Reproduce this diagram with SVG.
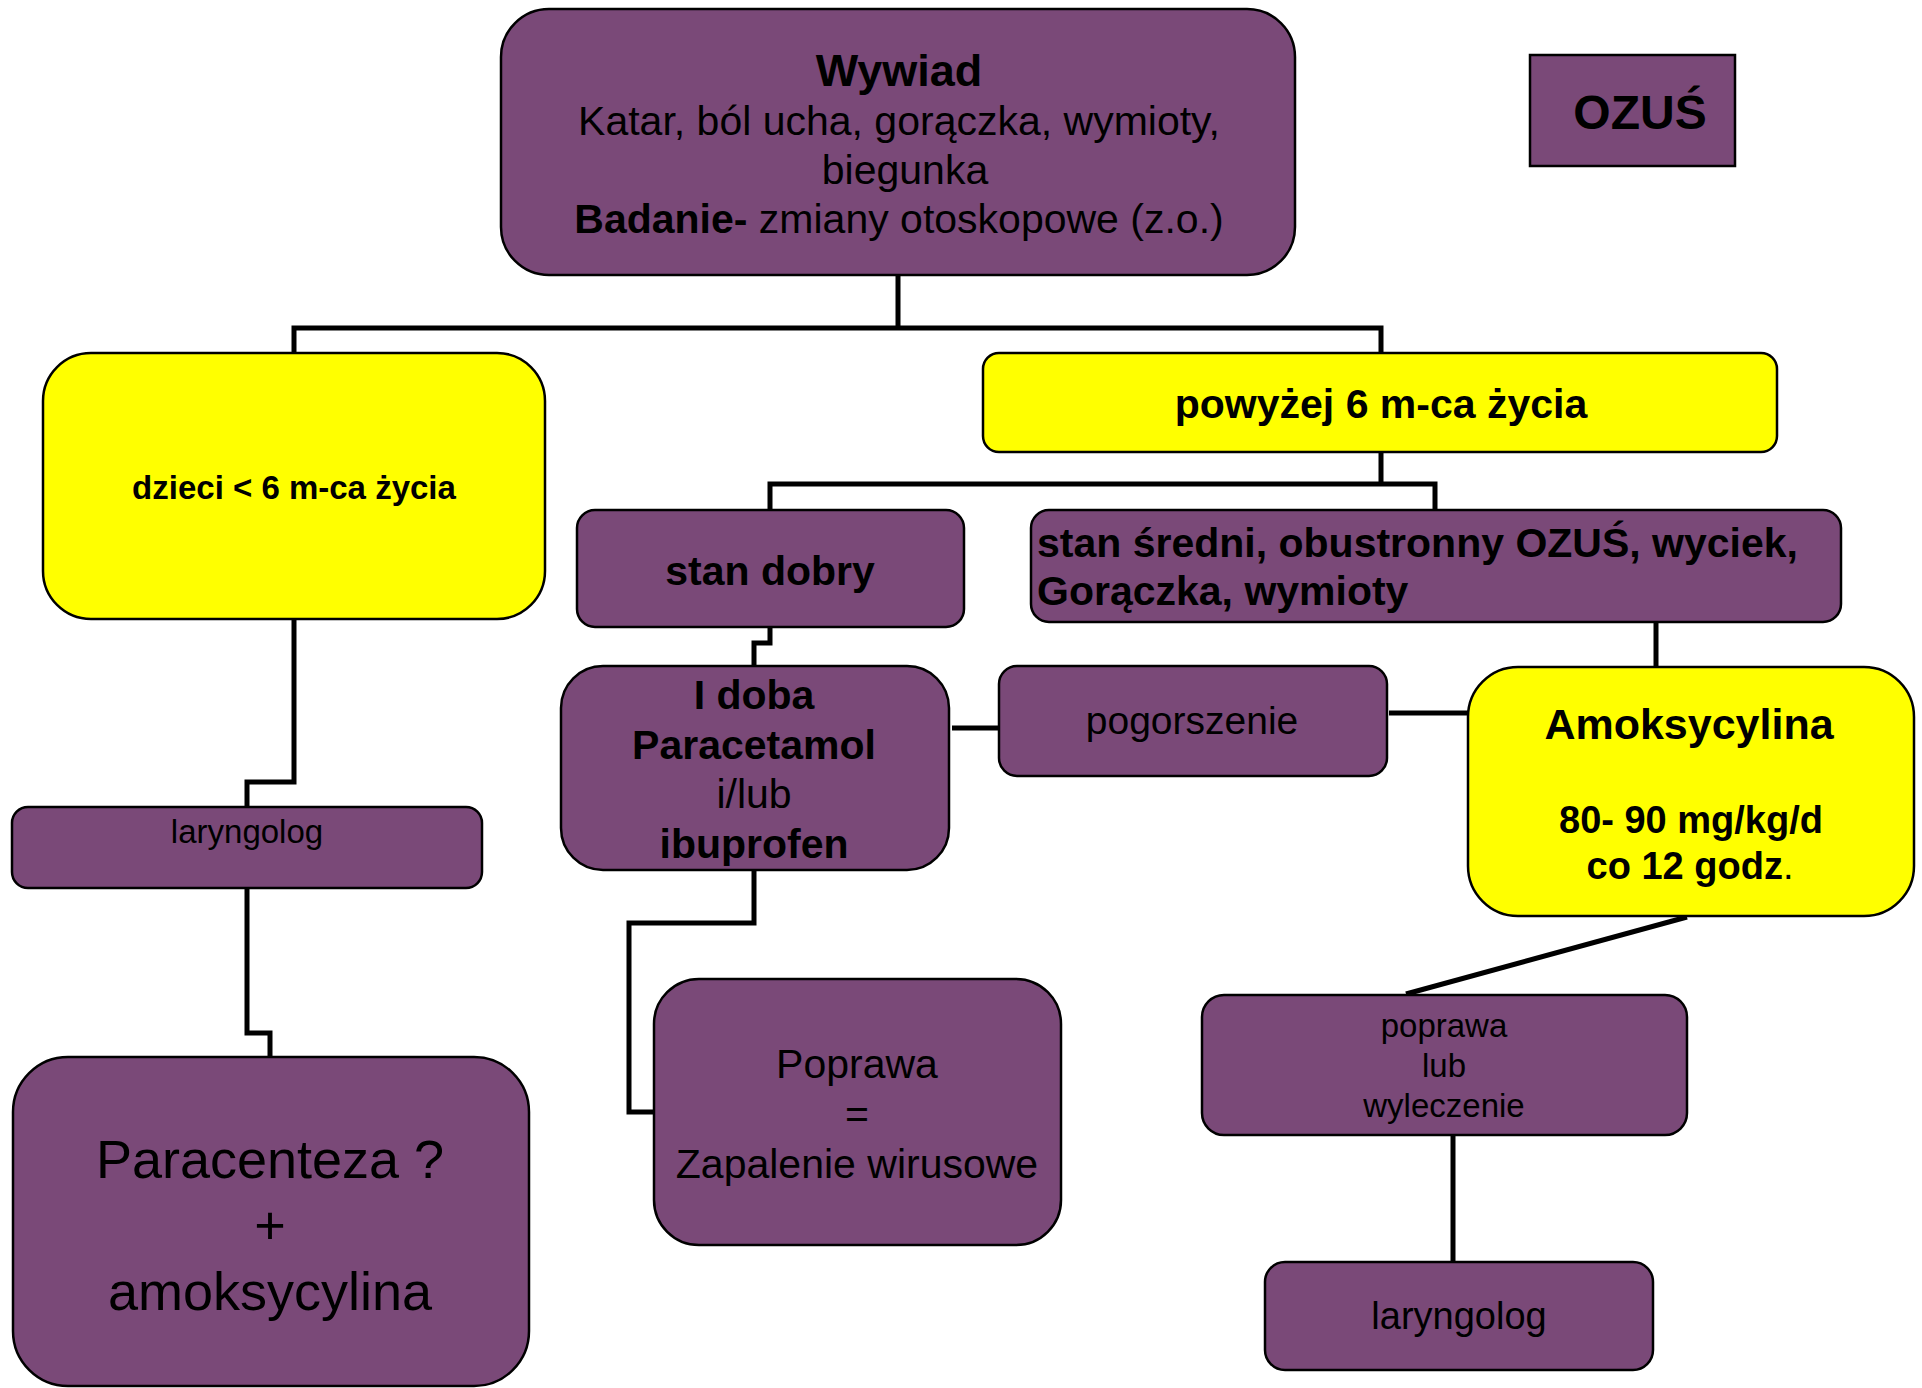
<svg xmlns="http://www.w3.org/2000/svg" width="1922" height="1388" viewBox="0 0 1922 1388">
<style>
  .p { fill: #7A4978; stroke: #000; stroke-width: 2.5; }
  .y { fill: #FFFF00; stroke: #000; stroke-width: 2.5; }
  text { font-family: "Liberation Sans", Arial, sans-serif; fill: #000; }
  .b { font-weight: bold; }
  .c { stroke: #000; stroke-width: 5; fill: none; stroke-linejoin: miter; stroke-linecap: butt; }
</style>
<rect width="1922" height="1388" fill="#fff"/>
<g id="connectors">
  <path class="c" d="M898,275 V328 M294,353 V328 H1381 V353"/>
  <path class="c" d="M1381,452 V484 M770,510 V484 H1435 V510"/>
  <path class="c" d="M294,619 V782 H247 V807"/>
  <path class="c" d="M247,888 V1033 H270 V1058"/>
  <path class="c" d="M770,627 V643 H754 V666"/>
  <path class="c" d="M754,870 V923 H629 V1112 H654"/>
  <path class="c" d="M952,728 H999"/>
  <path class="c" d="M1389,713 H1468"/>
  <path class="c" d="M1656,622 V667"/>
  <path class="c" d="M1687,917 L1406,994"/>
  <path class="c" d="M1453,1135 V1262"/>
</g>
<g id="wywiad">
  <rect class="p" x="501" y="9" width="794" height="266" rx="48"/>
  <text x="899" y="86" font-size="45" text-anchor="middle" class="b">Wywiad</text>
  <text x="899" y="135" font-size="41" text-anchor="middle">Katar, ból ucha, gorączka, wymioty,</text>
  <text x="905" y="184" font-size="41" text-anchor="middle">biegunka</text>
  <text x="899" y="233" font-size="41" text-anchor="middle"><tspan font-weight="bold">Badanie-</tspan> zmiany otoskopowe (z.o.)</text>
</g>
<g id="ozus">
  <rect class="p" x="1530" y="55" width="205" height="111"/>
  <text x="1640" y="129" font-size="48" text-anchor="middle" class="b">OZUŚ</text>
</g>
<g id="dzieci">
  <rect class="y" x="43" y="353" width="502" height="266" rx="48"/>
  <text x="294" y="499" font-size="33" text-anchor="middle" class="b">dzieci &lt; 6 m-ca życia</text>
</g>
<g id="powyzej">
  <rect class="y" x="983" y="353" width="794" height="99" rx="16"/>
  <text x="1381" y="418" font-size="41" text-anchor="middle" class="b">powyżej 6 m-ca życia</text>
</g>
<g id="stan-dobry">
  <rect class="p" x="577" y="510" width="387" height="117" rx="18"/>
  <text x="770" y="585" font-size="41" text-anchor="middle" class="b">stan dobry</text>
</g>
<g id="stan-sredni">
  <rect class="p" x="1031" y="510" width="810" height="112" rx="18"/>
  <text x="1037" y="557" font-size="41" class="b">stan średni, obustronny OZUŚ, wyciek,</text>
  <text x="1037" y="605" font-size="41" class="b">Gorączka, wymioty</text>
</g>
<g id="laryngolog-1">
  <rect class="p" x="12" y="807" width="470" height="81" rx="16"/>
  <text x="247" y="843" font-size="33" text-anchor="middle">laryngolog</text>
</g>
<g id="paracenteza">
  <rect class="p" x="13" y="1057" width="516" height="329" rx="55"/>
  <text x="270" y="1178" font-size="54" text-anchor="middle">Paracenteza ?</text>
  <text x="270" y="1244" font-size="54" text-anchor="middle">+</text>
  <text x="270" y="1310" font-size="54" text-anchor="middle">amoksycylina</text>
</g>
<g id="i-doba">
  <rect class="p" x="561" y="666" width="388" height="204" rx="42"/>
  <text x="754" y="709" font-size="41" text-anchor="middle" class="b">I doba</text>
  <text x="754" y="759" font-size="41" text-anchor="middle" class="b">Paracetamol</text>
  <text x="754" y="808" font-size="41" text-anchor="middle">i/lub</text>
  <text x="754" y="858" font-size="41" text-anchor="middle" class="b">ibuprofen</text>
</g>
<g id="pogorszenie">
  <rect class="p" x="999" y="666" width="388" height="110" rx="18"/>
  <text x="1192" y="734" font-size="39" text-anchor="middle">pogorszenie</text>
</g>
<g id="amoksycylina">
  <rect class="y" x="1468" y="667" width="446" height="249" rx="50"/>
  <text x="1689" y="739" font-size="43" text-anchor="middle" class="b">Amoksycylina</text>
  <text x="1691" y="833" font-size="38" text-anchor="middle" class="b">80- 90 mg/kg/d</text>
  <text x="1690" y="879" font-size="38" text-anchor="middle"><tspan font-weight="bold">co 12 godz</tspan>.</text>
</g>
<g id="poprawa-wirusowe">
  <rect class="p" x="654" y="979" width="407" height="266" rx="45"/>
  <text x="857" y="1078" font-size="41" text-anchor="middle">Poprawa</text>
  <text x="857" y="1128" font-size="41" text-anchor="middle">=</text>
  <text x="857" y="1178" font-size="41" text-anchor="middle">Zapalenie wirusowe</text>
</g>
<g id="poprawa-lub">
  <rect class="p" x="1202" y="995" width="485" height="140" rx="22"/>
  <text x="1444" y="1037" font-size="33" text-anchor="middle">poprawa</text>
  <text x="1444" y="1077" font-size="33" text-anchor="middle">lub</text>
  <text x="1444" y="1117" font-size="33" text-anchor="middle">wyleczenie</text>
</g>
<g id="laryngolog-2">
  <rect class="p" x="1265" y="1262" width="388" height="108" rx="20"/>
  <text x="1459" y="1329" font-size="38" text-anchor="middle">laryngolog</text>
</g>
</svg>
